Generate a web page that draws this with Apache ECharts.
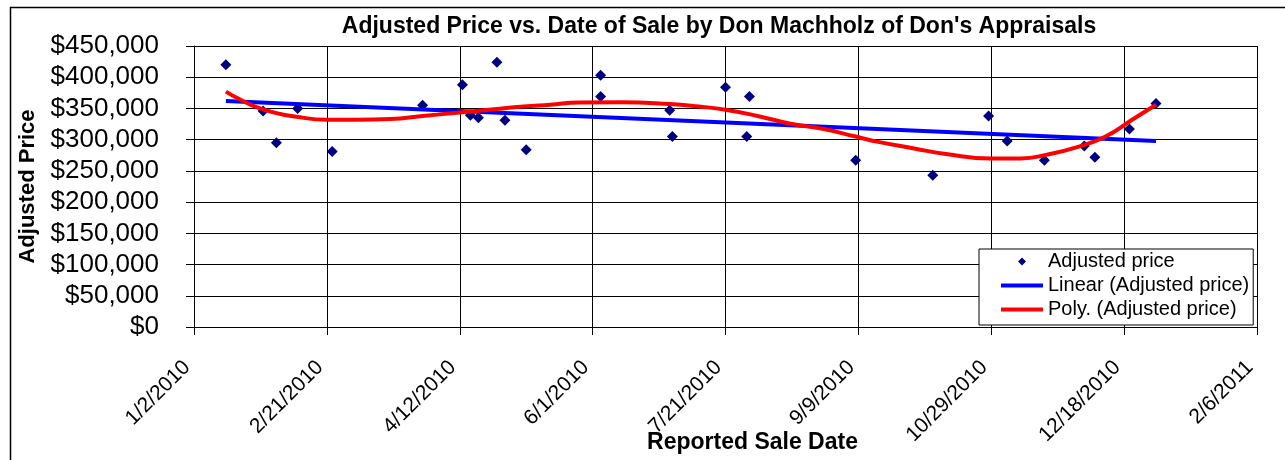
<!DOCTYPE html>
<html>
<head>
<meta charset="utf-8">
<script src="https://cdn.jsdelivr.net/npm/echarts@6/dist/echarts.min.js"></script>
<style>
html,body{margin:0;padding:0;background:#fff;}
#chart{width:1285px;height:460px;}
</style>
</head>
<body>
<div id="chart"></div>
<script>
// ---- data ----
const saleDates = ['2010-01-14','2010-01-28','2010-02-02','2010-02-10','2010-02-23','2010-03-29','2010-04-13','2010-04-16','2010-04-19','2010-04-26','2010-04-29','2010-05-07','2010-06-04','2010-06-04','2010-06-30','2010-07-01','2010-07-21','2010-07-30','2010-07-29','2010-09-08','2010-10-07','2010-10-28','2010-11-04','2010-11-18','2010-12-03','2010-12-07','2010-12-20','2010-12-30'];
const adjustedPrices = [420000,346000,295000,350000,281000,355000,388000,339000,335000,424000,331000,284000,403000,369000,347000,305000,384000,369000,305000,267000,243000,338000,298000,267000,290000,272000,317000,358000];

const linearDates = ['2010-01-14','2010-12-30'];
const linearValues = [362000,298000];

const polyDates = ['2010-01-14','2010-01-19','2010-01-25','2010-02-02','2010-02-09','2010-02-21','2010-03-04','2010-03-17','2010-03-29','2010-04-11','2010-04-23','2010-05-06','2010-05-16','2010-05-27','2010-06-12','2010-06-30','2010-07-11','2010-07-21','2010-08-02','2010-08-14','2010-08-27','2010-09-08','2010-09-17','2010-09-30','2010-10-12','2010-10-29','2010-11-09','2010-11-19','2010-12-01','2010-12-11','2010-12-21','2010-12-30'];
const polyValues = [377000,365000,353000,342500,337000,332000,332000,333000,338000,343000,348000,353000,356000,359500,360000,357000,353000,348000,338000,326000,317000,305000,296000,286000,277000,270000,270000,276000,289000,305000,332000,356000];

const axisStartDate = '2010-01-02';
const axisEndDate = '2011-02-06';
const tickDays = 50;
const yTicks = [0,50000,100000,150000,200000,250000,300000,350000,400000,450000];

const titleText = "Adjusted Price vs. Date of Sale by Don Machholz of Don's Appraisals";
const xTitle = 'Reported Sale Date';
const yTitle = 'Adjusted Price';
const legendNames = ['Adjusted price','Linear (Adjusted price)','Poly. (Adjusted price)'];

// ---- helpers ----
const DAY = 86400000;
const t0 = Date.parse(axisStartDate);
const toDay = s => (Date.parse(s) - t0) / DAY;
const fmtDate = v => {
  const d = new Date(t0 + Math.round(v) * DAY);
  return (d.getUTCMonth()+1) + '/' + d.getUTCDate() + '/' + d.getUTCFullYear();
};
const fmtMoney = v => '$' + Number(v).toLocaleString('en-US');
const pair = (ds, vs) => ds.map((d,i) => [toDay(d), vs[i]]);

const FONT = '"Liberation Sans", Arial, sans-serif';
const diamondIcon = 'path://M0,0 M42,8 M21,0 L25,4 L21,8 L17,4 Z';
const lineIcon = 'path://M0,0 M42,8 M0,2 L42,2 L42,6 L0,6 Z';

const chart = echarts.init(document.getElementById('chart'));
chart.setOption({
  animation: false,
  backgroundColor: '#fff',
  textStyle: {fontFamily: FONT, color: '#000'},
  graphic: [{
    type: 'rect', left: 8, top: 5, silent: true, z: -1,
    shape: {width: 1400, height: 600},
    style: {fill: 'none', stroke: '#000', lineWidth: 1.5}
  }],
  title: {
    text: titleText, left: 719, top: 15, padding: 0, textAlign: 'center',
    textStyle: {fontFamily: FONT, fontSize: 23, fontWeight: 'bold', color: '#000'}
  },
  grid: {left: 194, right: 28, top: 46, bottom: 133, containLabel: false, outerBoundsMode: 'none'},
  legend: {
    orient: 'vertical', left: 979, top: 249,
    data: [
      {name: legendNames[0], icon: diamondIcon},
      {name: legendNames[1], icon: lineIcon},
      {name: legendNames[2], icon: lineIcon}
    ],
    backgroundColor: '#fff', borderColor: '#000', borderWidth: 1, borderRadius: 0,
    padding: [2, 4, 5, 22], itemGap: 3, itemWidth: 42, itemHeight: 8,
    textStyle: {fontFamily: FONT, fontSize: 20, color: '#000', lineHeight: 21}
  },
  xAxis: {
    type: 'value', min: 0, max: toDay(axisEndDate), interval: tickDays,
    name: xTitle, nameLocation: 'middle', nameGap: 104, nameMoveOverlap: false,
    nameTextStyle: {fontFamily: FONT, fontSize: 23, fontWeight: 'bold', color: '#000', padding: [0,0,0,54]},
    axisLine: {show: true, lineStyle: {color: '#000', width: 1}},
    axisTick: {show: true, length: 8, lineStyle: {color: '#000'}},
    splitLine: {show: true, lineStyle: {color: '#000', width: 1}},
    axisLabel: {rotate: 45, margin: 30, padding: [0, 10, 0, 0], fontSize: 21, color: '#000', fontFamily: FONT,
      showMinLabel: true, showMaxLabel: true, formatter: fmtDate}
  },
  yAxis: {
    type: 'value', min: yTicks[0], max: yTicks[yTicks.length-1], interval: yTicks[1]-yTicks[0],
    name: yTitle, nameLocation: 'middle', nameGap: 155, nameRotate: 90, nameMoveOverlap: false,
    nameTextStyle: {fontFamily: FONT, fontSize: 22, fontWeight: 'bold', color: '#000'},
    axisLine: {show: true, lineStyle: {color: '#000', width: 1}},
    axisTick: {show: true, length: 8, lineStyle: {color: '#000'}},
    splitLine: {show: true, lineStyle: {color: '#000', width: 1}},
    axisLabel: {margin: 35, fontSize: 26, color: '#000', fontFamily: FONT, formatter: fmtMoney}
  },
  series: [
    {
      name: legendNames[0], type: 'scatter', symbol: 'diamond', symbolSize: 11, z: 2,
      itemStyle: {color: '#000080', opacity: 1},
      data: pair(saleDates, adjustedPrices)
    },
    {
      name: legendNames[1], type: 'line', symbol: 'none', showSymbol: false, z: 3,
      lineStyle: {color: '#0000FF', width: 4}, itemStyle: {color: '#0000FF'},
      data: pair(linearDates, linearValues)
    },
    {
      name: legendNames[2], type: 'line', symbol: 'none', showSymbol: false, smooth: true, z: 4,
      lineStyle: {color: '#FF0000', width: 4}, itemStyle: {color: '#FF0000'},
      data: pair(polyDates, polyValues)
    }
  ]
});
</script>
</body>
</html>
